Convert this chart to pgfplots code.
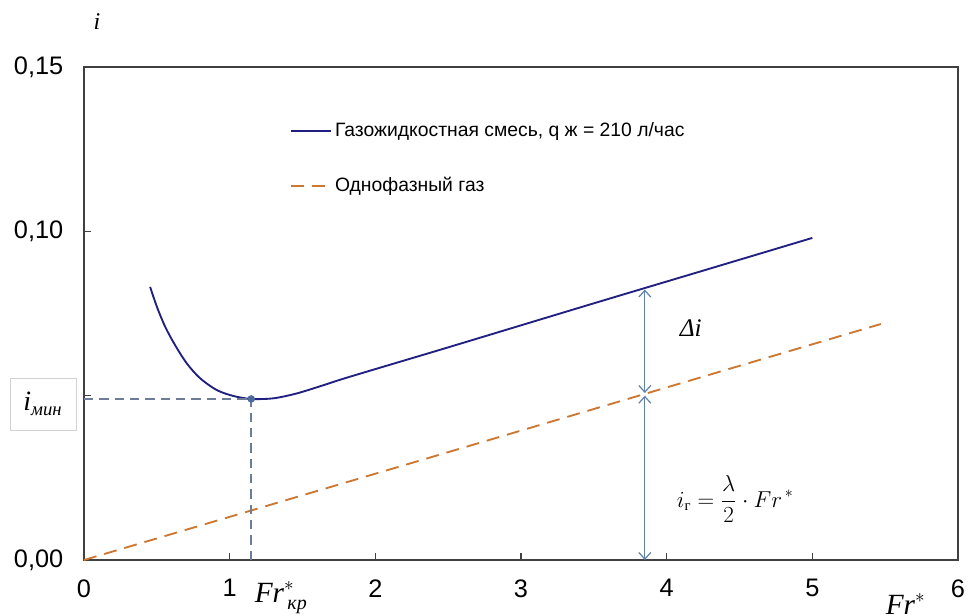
\documentclass[border=0pt]{standalone}
\usepackage{pgfplots}
\pgfplotsset{compat=1.18}
\usepackage{fontspec}
\setmainfont{Liberation Sans}
\newfontfamily\seriffont{Liberation Serif}
\usetikzlibrary{arrows.meta}
\definecolor{navy}{RGB}{32,32,128}
\definecolor{orng}{RGB}{205,120,50}
\definecolor{guide}{RGB}{110,125,150}
\definecolor{arr}{RGB}{95,130,170}
\definecolor{frame}{RGB}{64,64,64}
\definecolor{dotc}{RGB}{75,105,155}
\begin{document}
\begin{tikzpicture}
\useasboundingbox (-63pt,-41.25pt) rectangle (662.25pt,420pt);
\begin{axis}[
 at={(0,0)}, anchor=south west,
 scale only axis, width=655.5pt, height=369.75pt,
 xmin=0, xmax=6, ymin=0, ymax=0.15,
 axis line style={frame, line width=1.5pt},
 xtick={0,1,2,3,4,5,6}, xticklabels={0,1,2,3,4,5,6},
 ytick={0,0.05,0.1,0.15}, yticklabels={{0,00},{},{0,10},{0,15}},
 tick align=inside, xtick pos=bottom, ytick pos=left,
 major tick length=5pt,
 tick style={frame, line width=0.8pt},
 ticklabel style={font=\fontsize{19}{22}\selectfont},
 xticklabel style={yshift=-11pt},
 yticklabel style={xshift=-12pt},
 clip=false,
 legend style={draw=none, fill=none, at={(axis cs:1.416,0.1339)}, anchor=north west,
   font=\fontsize{14.5}{17}\selectfont, row sep=25pt, inner sep=0pt,
   nodes={inner sep=2pt}},
 legend cell align=left,
 legend image code/.code={\draw[#1] (0pt,0pt) -- (30pt,0pt);},
]
\addplot[navy, line width=1.4pt, smooth] coordinates {
 (0.454,0.0831)(0.500,0.0771)(0.557,0.0710)(0.625,0.0654)(0.706,0.0598)
 (0.797,0.0553)(0.912,0.0517)(1.026,0.0499)(1.148,0.0490)(1.301,0.0492)
 (1.462,0.0507)(1.645,0.0532)(1.828,0.0558)(2.500,0.0647)(3.500,0.0781)
 (4.300,0.0887)(5.000,0.0980)};
\addlegendentry{Газожидкостная смесь, q ж = 210 л/час}
\addplot[orng, line width=1.4pt, dash pattern=on 9.75pt off 6pt] coordinates {(0,0)(5.47,0.0718)};
\addlegendentry{Однофазный газ}
\addplot[guide, line width=1.1pt, dash pattern=on 7pt off 4.5pt, forget plot] coordinates {(0,0.049)(1.148,0.049)};
\addplot[guide, line width=1.1pt, dash pattern=on 7pt off 4.5pt, forget plot] coordinates {(1.148,0)(1.148,0.049)};
\addplot[only marks, mark=*, mark size=2.6pt, mark options={draw=dotc, fill=dotc}, forget plot] coordinates {(1.148,0.049)};
\addplot[arr, line width=0.9pt, {Straight Barb[length=5pt,width=9pt]}-{Straight Barb[length=5pt,width=9pt]}, forget plot] coordinates {(3.85,0.0508)(3.85,0.0823)};
\addplot[arr, line width=0.9pt, {Straight Barb[length=5pt,width=9pt]}-{Straight Barb[length=5pt,width=9pt]}, forget plot] coordinates {(3.85,0)(3.85,0.0500)};
\node[font=\seriffont\itshape\fontsize{18}{20}\selectfont] at (axis cs:0.089,0.1637) {i};
\node[draw=gray!35, fill=white, minimum width=49.5pt, minimum height=39pt, font=\fontsize{21}{24}\selectfont] at (axis cs:-0.282,0.0475) {$\mbox{\seriffont\itshape i}_{\mbox{\seriffont\itshape\fontsize{14}{16}\selectfont мин}}$};
\node[font=\fontsize{22}{25}\selectfont, anchor=west] at (axis cs:1.14,-0.0115) {$\mbox{\seriffont\itshape Fr}^{*}_{\mbox{\seriffont\itshape\fontsize{15}{17}\selectfont\,кр}}$};
\node[font=\fontsize{22}{25}\selectfont] at (axis cs:5.64,-0.0135) {$\mbox{\seriffont\itshape Fr}^{*}$};
\node[font=\seriffont\itshape\fontsize{19}{22}\selectfont] at (axis cs:4.165,0.0705) {Δi};
\node[font=\fontsize{18}{21}\selectfont] at (axis cs:4.47,0.0185) {$i_{\mbox{\seriffont\fontsize{11}{13}\selectfont г}} = \displaystyle\frac{\lambda}{2}\cdot Fr^{\,*}$};
\end{axis}
\end{tikzpicture}
\end{document}
